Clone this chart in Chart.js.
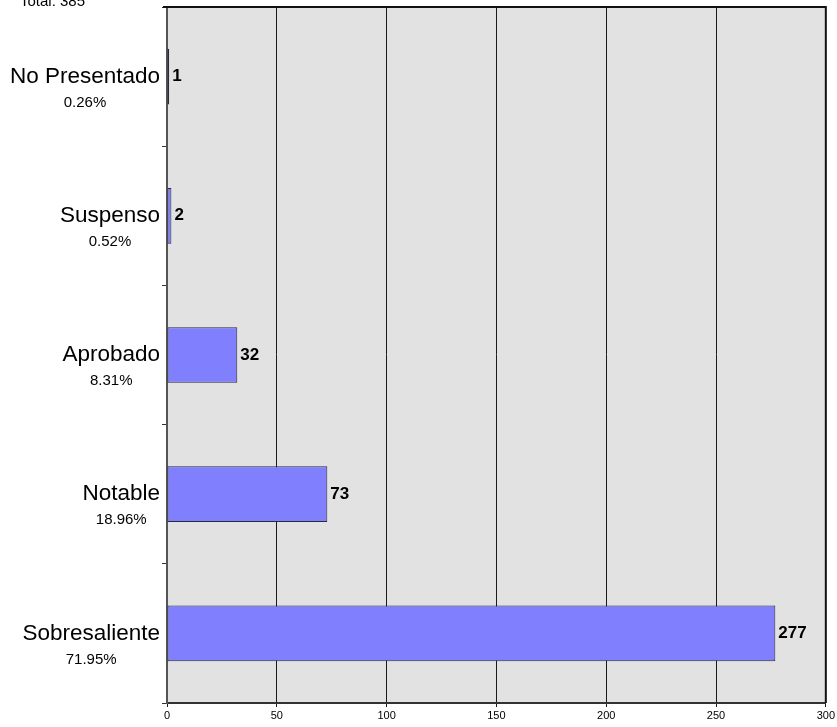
<!DOCTYPE html>
<html>
<head>
<meta charset="utf-8">
<script src="https://cdn.jsdelivr.net/npm/chart.js@4"></script>
<style>
html,body{margin:0;padding:0;background:#fff;}
canvas{display:block;}
</style>
</head>
<body>
<canvas id="c" width="837" height="727"></canvas>
<script>
const categories = ["No Presentado", "Suspenso", "Aprobado", "Notable", "Sobresaliente"];
const counts = [1, 2, 32, 73, 277];
const percentLabels = ["0.26%", "0.52%", "8.31%", "18.96%", "71.95%"];
const totalLabel = "Total: 385";
const xTicks = [0, 50, 100, 150, 200, 250, 300];

const FONT = '"Liberation Sans", Arial, sans-serif';

const decor = {
  id: 'decor',
  beforeDraw(chart) {
    const {ctx, chartArea: a} = chart;
    ctx.save();
    ctx.fillStyle = '#e2e2e2';
    ctx.fillRect(a.left, a.top, a.right - a.left, a.bottom - a.top);
    ctx.restore();
  },
  afterDraw(chart) {
    const {ctx, chartArea: a} = chart;
    const ys = chart.scales.y, xs = chart.scales.x;
    ctx.save();
    // top & right border
    ctx.strokeStyle = '#111';
    ctx.lineWidth = 2;
    ctx.beginPath();
    ctx.moveTo(a.left - 4, a.top);
    ctx.lineTo(a.right, a.top);
    ctx.lineTo(a.right, a.bottom);
    ctx.stroke();
    // category labels
    ctx.fillStyle = '#000';
    categories.forEach((c, i) => {
      const y = ys.getPixelForValue(i);
      ctx.font = '22.5px ' + FONT;
      ctx.textAlign = 'right';
      ctx.textBaseline = 'middle';
      ctx.fillText(c, a.left - 7, y);
      const w = ctx.measureText(c).width;
      const cx = a.left - 7 - w / 2;
      ctx.font = '15px ' + FONT;
      ctx.textAlign = 'center';
      ctx.fillText(percentLabels[i], cx, y + 26);
      // value label
      ctx.font = 'bold 17px ' + FONT;
      ctx.textAlign = 'left';
      ctx.fillText(String(counts[i]), xs.getPixelForValue(counts[i]) + 3, y);
    });
    // total
    ctx.font = '15px ' + FONT;
    ctx.textAlign = 'left';
    ctx.textBaseline = 'alphabetic';
    ctx.fillText(totalLabel, 20, 6);
    ctx.restore();
  }
};

new Chart(document.getElementById('c'), {
  type: 'bar',
  data: {
    labels: categories,
    datasets: [{
      data: counts,
      backgroundColor: '#8080ff',
      borderColor: '#2a2a3a',
      borderWidth: 1,
      borderSkipped: false,
      barPercentage: 0.4,
      categoryPercentage: 1
    }]
  },
  options: {
    indexAxis: 'y',
    responsive: false,
    animation: false,
    layout: { padding: { top: 7, right: 11, left: 0, bottom: 0 } },
    plugins: { legend: { display: false }, tooltip: { enabled: false } },
    scales: {
      x: {
        min: 0, max: 300,
        afterBuildTicks(s) { s.ticks = xTicks.map(v => ({value: v})); },
        afterFit(s) { s.height = 24; },
        grid: { color: '#1a1a1a', lineWidth: 1, tickLength: 4, drawOnChartArea: true },
        border: { color: '#333', width: 2 },
        ticks: { color: '#000', font: { size: 11, family: FONT }, padding: 2, maxRotation: 0 }
      },
      y: {
        offset: true,
        afterFit(s) { s.width = 167; },
        grid: { drawOnChartArea: false, color: '#333', tickLength: 5, offset: true },
        border: { color: '#555', width: 2 },
        ticks: { display: false }
      }
    }
  },
  plugins: [decor]
});
</script>
</body>
</html>
